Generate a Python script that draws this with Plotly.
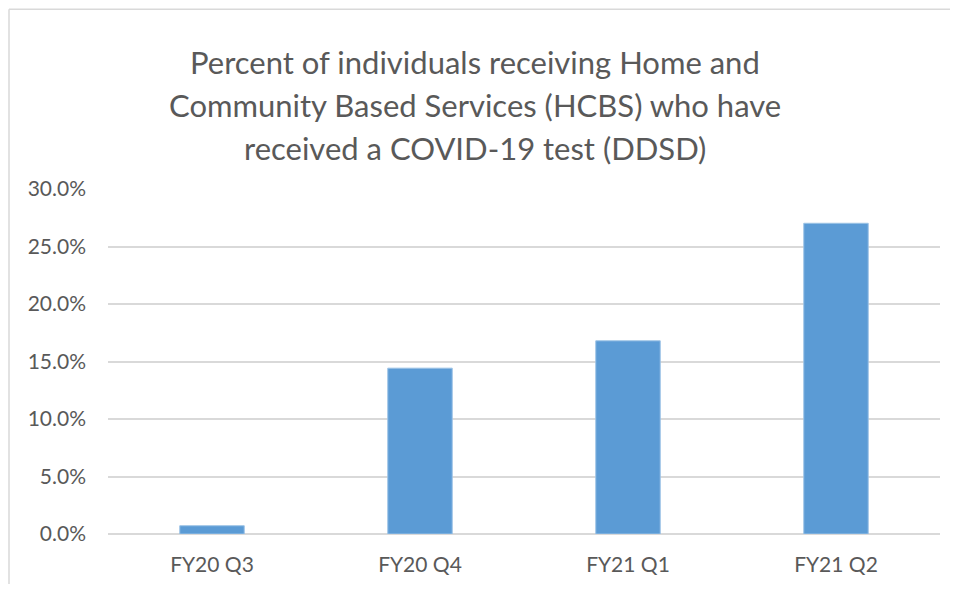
import plotly.graph_objects as go

categories = ["FY20 Q3", "FY20 Q4", "FY21 Q1", "FY21 Q2"]
values = [0.0072, 0.1442, 0.168, 0.2702]
title_lines = [
    "Percent of individuals receiving Home and",
    "Community Based Services (HCBS) who have",
    "received a COVID-19 test (DDSD)",
]

OFF = 8  # page body margin
W, H = 958 - 2 * OFF, 592 - 2 * OFF
L = 108 - OFF
T = 189 - OFF
R = W - (940 - OFF)
B = H - (534.3 - OFF)
pw, ph = W - L - R, H - T - B

def px_x(x):
    return (x - OFF - L) / pw

def px_y(y):
    return (H - B - (y - OFF)) / ph

fig = go.Figure()
fig.add_trace(go.Bar(
    x=categories, y=values,
    marker=dict(color="#5b9bd5", line=dict(color="#9dc3e6", width=1)),
    width=0.31,
))

fig.update_layout(
    width=W, height=H,
    margin=dict(l=L, r=R, t=T, b=B, autoexpand=False),
    paper_bgcolor="white", plot_bgcolor="white",
    showlegend=False,
    font=dict(family="Lato, sans-serif", color="#595959"),
    xaxis=dict(showgrid=False, showline=False, ticks="", tickfont=dict(size=21, color="#595959"),
               ticklabelstandoff=16),
    yaxis=dict(range=[0, 0.30], dtick=0.05, tickformat=".1%", showgrid=True,
               gridcolor="#d9d9d9", gridwidth=1.5, zeroline=True, zerolinecolor="#d9d9d9",
               zerolinewidth=1.5, showline=False, ticks="", tickfont=dict(size=21, color="#595959"),
               ticklabelstandoff=21),
)

for i, line in enumerate(title_lines):
    fig.add_annotation(
        text=line, xref="paper", yref="paper",
        x=px_x(475), y=px_y(62 + 43 * i),
        xanchor="center", yanchor="middle", showarrow=False,
        font=dict(size=31, color="#595959", family="Lato, sans-serif"),
    )

border = dict(color="#d9d9d9", width=1.5)
fig.add_shape(type="line", xref="paper", yref="paper",
              x0=px_x(OFF + 1), x1=px_x(OFF + 1), y0=px_y(600), y1=px_y(OFF + 1),
              line=border, layer="below")
fig.add_shape(type="line", xref="paper", yref="paper",
              x0=px_x(OFF + 1), x1=px_x(990), y0=px_y(OFF + 1), y1=px_y(OFF + 1),
              line=border, layer="below")

fig.write_html("out.html")
